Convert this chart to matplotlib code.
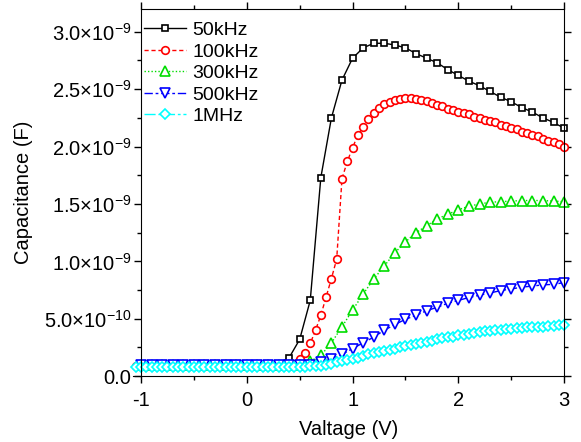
import numpy as np
import matplotlib
matplotlib.use("Agg")
import matplotlib.pyplot as plt
from matplotlib.ticker import MultipleLocator, FixedLocator

plt.rcParams['font.family'] = ['Liberation Sans', 'DejaVu Sans']
plt.rcParams['mathtext.fontset'] = 'custom'
plt.rcParams['mathtext.rm'] = 'Liberation Sans'
plt.rcParams['mathtext.default'] = 'regular'

# 50kHz, every 0.1 V from -1.0 to 3.0
v_50k = np.round(np.arange(-1.0, 3.001, 0.1), 2)
c_50k = [0.10, 0.10, 0.10, 0.10, 0.10, 0.10, 0.10, 0.10, 0.10, 0.10,
         0.10, 0.10, 0.10, 0.11, 0.16, 0.32, 0.66, 1.73, 2.25, 2.58,
         2.77, 2.86, 2.90, 2.90, 2.885, 2.86, 2.81, 2.77, 2.73, 2.67,
         2.62, 2.57, 2.53, 2.48, 2.43, 2.39, 2.34, 2.30, 2.25, 2.21, 2.16]

# 100kHz, every 0.05 V from -1.05 to 3.0
v_100k = np.round(np.arange(-1.05, 3.001, 0.05), 2)
c_100k = [0.09] * 29 + [
    0.10, 0.11, 0.15, 0.20, 0.285, 0.40, 0.53, 0.69, 0.85, 1.02,
    1.72, 1.87, 1.99, 2.10, 2.17, 2.24, 2.29, 2.34, 2.37, 2.39,
    2.41, 2.415, 2.42, 2.42, 2.415, 2.41, 2.40, 2.38, 2.36, 2.35,
    2.33, 2.32, 2.30, 2.29, 2.28, 2.26, 2.25, 2.23, 2.22, 2.21,
    2.19, 2.18, 2.16, 2.15, 2.13, 2.12, 2.10, 2.09, 2.07, 2.05,
    2.04, 2.02, 2.00]

# 300kHz, every 0.1 V
v_300k = np.round(np.arange(-1.0, 3.001, 0.1), 2)
c_300k = [0.095] * 16 + [
    0.13, 0.18, 0.29, 0.43, 0.575, 0.715, 0.846, 0.96, 1.075, 1.17,
    1.25, 1.31, 1.37, 1.41, 1.45, 1.48, 1.50, 1.515, 1.52, 1.525,
    1.53, 1.53, 1.53, 1.525, 1.52]

# 500kHz, every 0.1 V
v_500k = np.round(np.arange(-1.0, 3.001, 0.1), 2)
c_500k = [0.095] * 17 + [
    0.12, 0.15, 0.19, 0.24, 0.29, 0.34, 0.40, 0.45, 0.495, 0.53,
    0.57, 0.60, 0.635, 0.66, 0.685, 0.705, 0.725, 0.745, 0.76, 0.775,
    0.785, 0.795, 0.80, 0.815]

# 1MHz, every 0.05 V from -1.05 to 3.0
v_1m = np.round(np.arange(-1.05, 3.001, 0.05), 2)
c_1m = [0.08] * 32 + [
    0.082, 0.085, 0.088, 0.092, 0.10, 0.11, 0.12, 0.13, 0.14, 0.15,
    0.16, 0.175, 0.19, 0.20, 0.21, 0.22, 0.23, 0.24, 0.25, 0.26,
    0.27, 0.28, 0.29, 0.30, 0.31, 0.32, 0.33, 0.34, 0.345, 0.355,
    0.36, 0.37, 0.375, 0.385, 0.39, 0.395, 0.40, 0.405, 0.41, 0.415,
    0.42, 0.423, 0.425, 0.428, 0.43, 0.432, 0.435, 0.44, 0.442, 0.445]
c_1m = c_1m[:len(v_1m)]

series = [
    (v_50k, c_50k, '50kHz', 'black', '-', 's', 5.0),
    (v_100k, c_100k, '100kHz', 'red', (0, (3, 2)), 'o', 5.5),
    (v_300k, c_300k, '300kHz', '#00dd00', (0, (1, 1.5)), '^', 6.5),
    (v_500k, c_500k, '500kHz', 'blue', (0, (6, 2, 2, 2)), 'v', 6.5),
    (v_1m, c_1m, '1MHz', 'cyan', (0, (8, 2, 2, 2)), 'D', 4.8),
]

fig = plt.figure(figsize=(5.81, 4.42), dpi=100)
ax = fig.add_axes([0.229, 0.149, 0.742, 0.831])

for x, y, lab, col, ls, mk, ms in series:
    y = np.array(y[:len(x)]) * 1e-9
    ax.plot(x[:len(y)], y, color=col, linestyle=ls, linewidth=1.0,
            marker=mk, markersize=ms, markerfacecolor='white',
            markeredgecolor=col, markeredgewidth=1.2, label=lab, clip_on=False)

ax.set_xlim(-1.075, 3.0)
ax.set_ylim(0, 3.2e-9)
ax.spines['left'].set_position(('data', -1.0))
ax.spines['top'].set_bounds(-1.0, 3.0)

ax.xaxis.set_major_locator(FixedLocator([-1, 0, 1, 2, 3]))
ax.xaxis.set_minor_locator(FixedLocator([-0.5, 0.5, 1.5, 2.5]))
ax.set_xticklabels(['-1', '0', '1', '2', '3'])

yt = [0, 0.5e-9, 1.0e-9, 1.5e-9, 2.0e-9, 2.5e-9, 3.0e-9]
ax.yaxis.set_major_locator(FixedLocator(yt))
ax.yaxis.set_minor_locator(MultipleLocator(0.25e-9))
ax.set_yticklabels(['0.0', r'$5.0×10^{-10}$', r'$1.0×10^{-9}$', r'$1.5×10^{-9}$',
                    r'$2.0×10^{-9}$', r'$2.5×10^{-9}$', r'$3.0×10^{-9}$'])
ax.yaxis.get_offset_text().set_visible(False)

ax.tick_params(which='both', direction='out', top=True, right=True,
               labelsize=14.5, width=1.0)
ax.tick_params(which='major', length=5)
ax.tick_params(which='minor', length=3)
ax.tick_params(axis='y', pad=2)
ax.tick_params(axis='x', pad=6)

ax.set_xlabel('Valtage (V)', fontsize=14.5, labelpad=7)
ax.set_ylabel('Capacitance (F)', fontsize=14.5, labelpad=8)

ax.legend(loc='upper left', bbox_to_anchor=(-0.005, 1.0), frameon=False,
          fontsize=14, handlelength=2.2, handletextpad=0.3,
          labelspacing=0.2, borderaxespad=0.25)

fig.savefig('out.png', dpi=100)
